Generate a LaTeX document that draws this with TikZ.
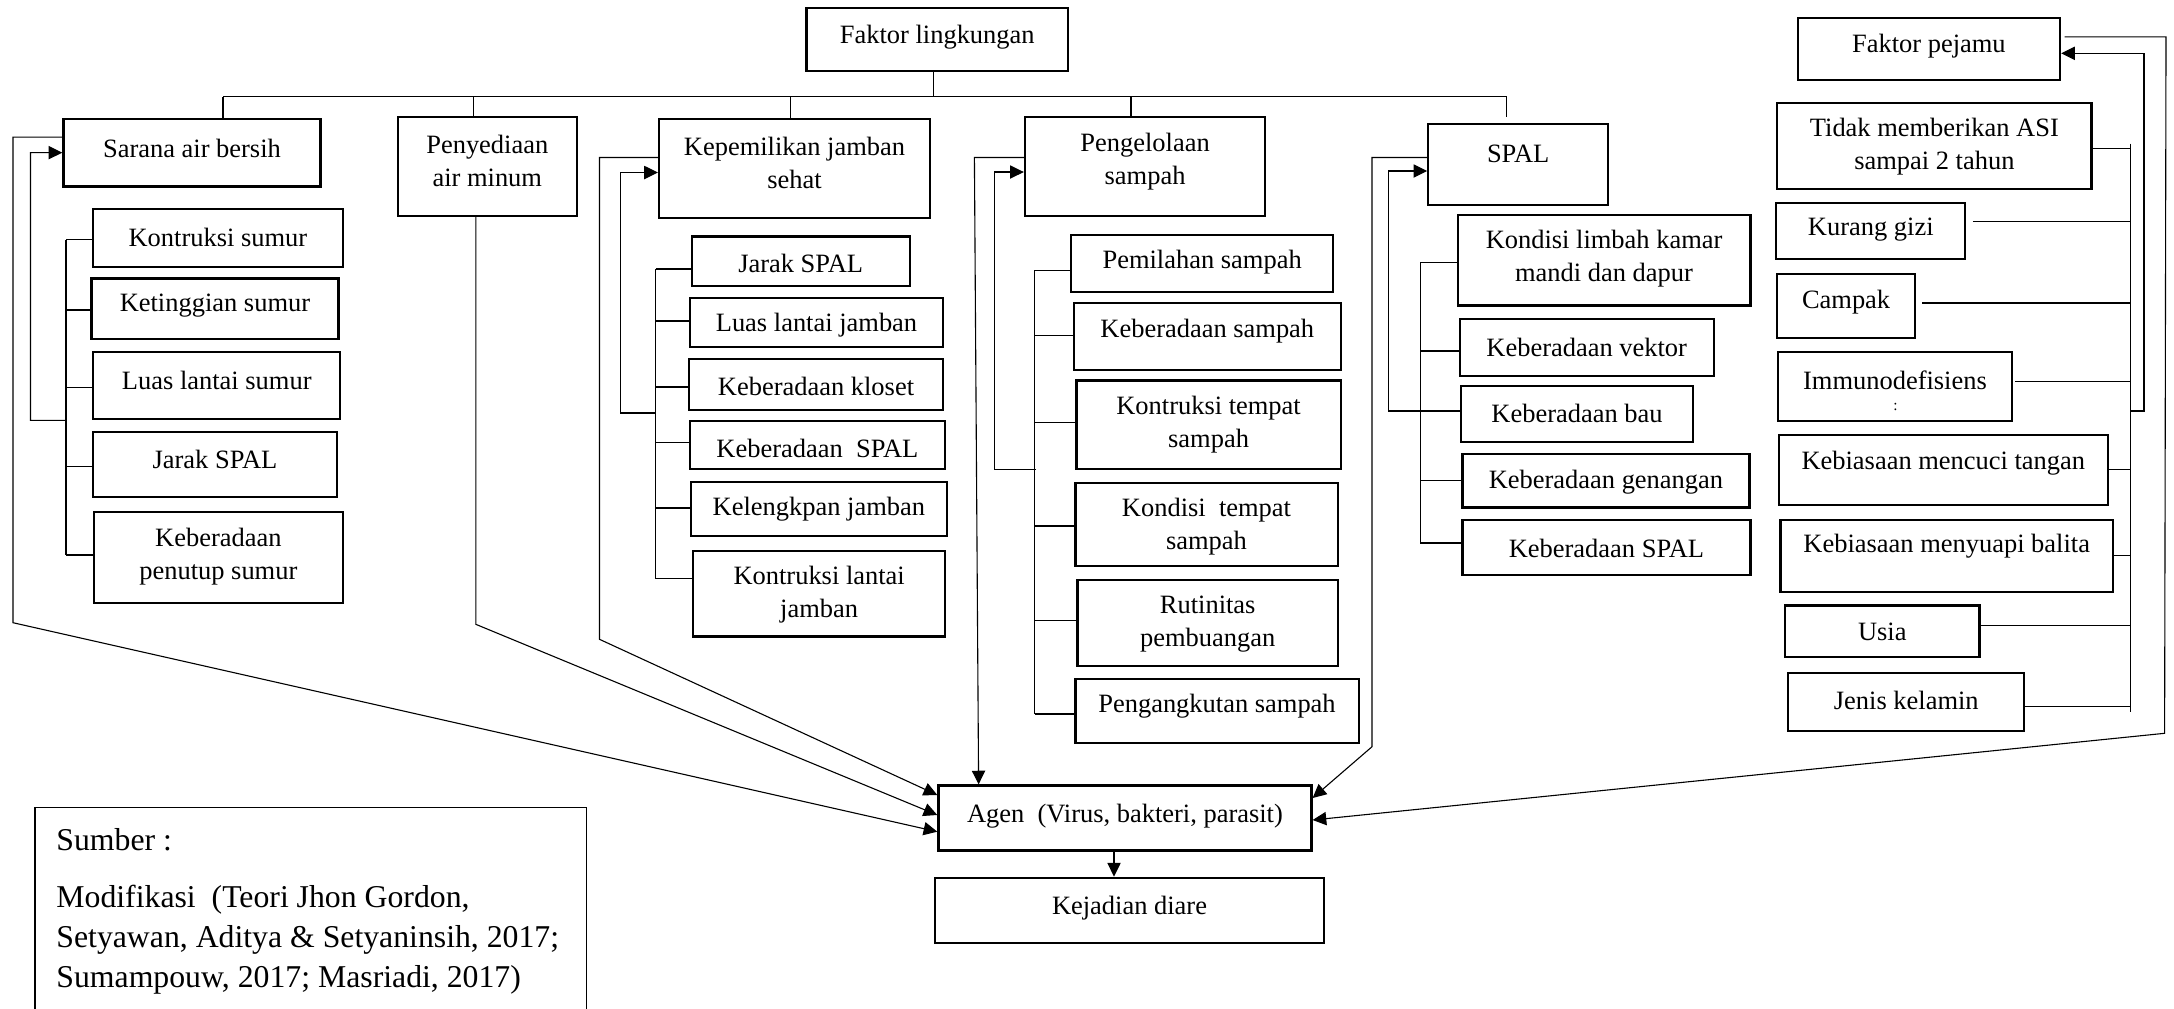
\documentclass[tikz,border=0pt]{standalone}
\usepackage{fontspec}
\setmainfont{Liberation Serif}
\usetikzlibrary{arrows.meta,fit,calc}
\tikzset{
  box/.style={draw, line width=1pt, inner sep=0pt},
  txt/.style={align=center, inner sep=0pt, font=\fontsize{12}{15}\selectfont},
  ln/.style={line width=0.5pt},
  arr/.style={ln, -{Triangle[length=6.2pt,width=6pt]}},
  stxt/.style={align=left, inner sep=0pt, anchor=west, font=\fontsize{14.4}{18.2}\selectfont},
}
\newcommand\bx[7]{\node[box,fit={(#2,#3) (#4,#5)}] (#1) {};
  \node[txt] (#1-t) at ({(#2+#4)/2},#6) {#7};}
\newcommand\stub[5]{\path ([shift={(#4,#5)}]#1.#2) coordinate (#1-c);
  \draw[ln] (#1-c) -- (#1-c -| #3);}
\begin{document}
\begin{tikzpicture}[x=0.4535pt,y=-0.4535pt]
\useasboundingbox (0,0) rectangle (2174,1008);

% ---------- boxes ----------
\bx{fl}{806.5}{7.8}{1068}{71.3}{37}{Faktor lingkungan}
\bx{sab}{63.4}{118.8}{320.5}{186.5}{148}{Sarana air bersih}
\bx{s1}{92.9}{208.6}{342.9}{267.3}{237}{Kontruksi sumur}
\bx{s2}{91.5}{278.4}{338.4}{338.8}{306}{Ketinggian sumur}
\bx{s3}{93.3}{351.8}{340.2}{419.2}{380}{Luas lantai sumur}
\bx{s4}{92.9}{431.8}{337}{497}{459}{Jarak SPAL}
\bx{s5}{93.8}{512}{342.9}{603}{557}{Keberadaan\\penutup sumur}
\bx{pam}{397.8}{117}{576.8}{216}{161}{Penyediaan\\air minum}
\bx{kjs}{659}{118.8}{930}{218}{163}{Kepemilikan jamban\\sehat}
\bx{k1}{691.7}{236.5}{909.6}{286}{263}{Jarak SPAL}
\bx{k2}{689.7}{297.6}{943.3}{347}{325}{Luas lantai jamban}
\bx{k3}{689}{358.7}{943}{409.6}{386}{Keberadaan kloset}
\bx{k4}{690}{420.7}{944.8}{469}{448}{Keberadaan~ SPAL}
\bx{k5}{691}{481.8}{946.8}{535.6}{509}{Kelengkpan jamban}
\bx{k6}{693}{550.7}{945.3}{636.5}{595}{Kontruksi lantai\\jamban}
\bx{pgs}{1024.9}{117.3}{1265.2}{216.2}{162}{Pengelolaan\\sampah}
\bx{p1}{1071.3}{234.6}{1333}{292.3}{262}{Pemilahan sampah}
\bx{p2}{1073.9}{303}{1340.7}{370}{331}{Keberadaan sampah}
\bx{p3}{1076.4}{380.5}{1340.7}{469.2}{425}{Kontruksi tempat\\sampah}
\bx{p4}{1075.4}{482.8}{1337.6}{566.2}{527}{Kondisi~ tempat\\sampah}
\bx{p5}{1077.4}{580.2}{1338}{666}{624}{Rutinitas\\pembuangan}
\bx{p6}{1075.4}{678.6}{1358.6}{743}{706}{Pengangkutan sampah}
\bx{spal}{1428.3}{124}{1608}{204.6}{154}{SPAL}
\bx{q1}{1457.7}{215.2}{1750.4}{305.4}{259}{Kondisi limbah kamar\\mandi dan dapur}
\bx{q2}{1459.8}{319}{1713.6}{375.7}{347}{Keberadaan vektor}
\bx{q3}{1461}{385.8}{1693}{441.6}{413}{Keberadaan bau}
\bx{q4}{1462.5}{454.2}{1749.4}{507.5}{482}{Keberadaan genangan}
\bx{q5}{1462.5}{520}{1750.4}{575}{548}{Keberadaan SPAL}
\bx{fp}{1797.7}{18}{2060}{80}{46}{Faktor pejamu}
\bx{h1}{1777.2}{102.8}{2091.5}{189}{147}{Tidak memberikan ASI\\sampai 2 tahun}
\bx{h2}{1776.2}{203}{1965.3}{259.3}{230}{Kurang gizi}
\bx{h3}{1777.2}{273.9}{1915}{337.9}{302}{Campak}
\bx{h4}{1778.3}{352}{2011.6}{420.7}{380}{Immunodefisiens}
\node[font=\fontsize{7}{8}\selectfont, inner sep=0pt] (h4-c) at (1895.5,407) {:};
\bx{h5}{1778.8}{434.8}{2107.8}{504.6}{463}{Kebiasaan mencuci tangan}
\bx{h6}{1780.4}{519.6}{2113}{591.9}{546}{Kebiasaan menyuapi balita}
\bx{h7}{1785}{605.4}{1979.5}{656.8}{632}{Usia}
\bx{h8}{1788.3}{672.8}{2024.2}{731}{700}{Jenis kelamin}
\bx{agen}{938.4}{785.5}{1311.5}{850.5}{816}{Agen~ (Virus, bakteri, parasit)}
\bx{kej}{935}{877.7}{1324}{942.8}{908}{Kejadian diare}

% ---------- source box ----------
\node[draw, line width=0.5pt, inner sep=0pt, fit={(35,807.7) (586.7,1014)}] (src) {};
\node[stxt] (src1) at (56,840) {Sumber :};
\node[stxt] (src2) at (56,940) {Modifikasi~ (Teori Jhon Gordon,\\Setyawan, Aditya \& Setyaninsih, 2017;\\Sumampouw, 2017; Masriadi, 2017)};

% ---------- top tree ----------
\coordinate (d0) at (933.6,96.7);
\coordinate (d1) at (223,96.7);
\coordinate (d2) at (473.2,96.7);
\coordinate (d3) at (790.7,96.7);
\coordinate (d4) at (1131,96.7);
\coordinate (d5) at (1506.6,96.7);
\draw[ln] (d1) -- (d5);
\draw[ln] (d0) -- (d0 |- fl.south);
\draw[ln] (d1) -- (d1 |- sab.north);
\draw[ln] (d2) -- (d2 |- pam.north);
\draw[ln] (d3) -- (d3 |- kjs.north);
\draw[ln] (d4) -- (d4 |- pgs.north);
\draw[ln] (d5) -- ($(d5 |- spal.north)+(0,-5.7)$);

% ---------- Sarana air bersih ----------
\coordinate (sb) at (66,0);
\stub{s1}{west}{sb}{0}{1.6}
\stub{s2}{west}{sb}{0}{1.4}
\stub{s3}{west}{sb}{0}{2.3}
\stub{s4}{west}{sb}{0}{2}
\stub{s5}{west}{sb}{0}{-2.5}
\draw[ln] (s1-c -| sb) -- (s5-c -| sb);
\coordinate (saj) at (66,420.4);
\coordinate (sai) at (30.5,152.6);
\draw[arr] (saj) -| (sai) -- (sab.west);
\coordinate (sao) at (13,622.7);
\draw[arr] ([shift={(0,-15.6)}]sab.west) -| (sao) -- ([shift={(0,13.7)}]agen.west);

% ---------- Penyediaan air minum ----------
\coordinate (pao) at (475.8,624.3);
\draw[arr] (pao |- pam.south) -- (pao) -- ([shift={(0,-3)}]agen.west);

% ---------- Kepemilikan jamban sehat ----------
\coordinate (kb) at (655.5,0);
\stub{k1}{west}{kb}{0}{7.7}
\stub{k2}{west}{kb}{0}{-1.3}
\stub{k3}{west}{kb}{0}{2.8}
\stub{k4}{west}{kb}{0}{-2.3}
\stub{k5}{west}{kb}{0}{-0.7}
\stub{k6}{west}{kb}{0}{-14.8}
\draw[ln] (k1-c -| kb) -- (k6-c -| kb);
\coordinate (kjj) at (655.5,413);
\coordinate (kji) at (620.8,172.5);
\draw[arr] (kjj) -| (kji) -- (kji -| kjs.west);
\coordinate (kjo) at (599.5,639.3);
\draw[arr] ([shift={(0,-10.9)}]kjs.west) -| (kjo) -- ([shift={(0,-23)}]agen.west);

% ---------- Pengelolaan sampah ----------
\coordinate (pb) at (1034.6,0);
\stub{p1}{west}{pb}{0}{7}
\stub{p2}{west}{pb}{0}{-1}
\stub{p3}{west}{pb}{0}{-2.7}
\stub{p4}{west}{pb}{0}{1.5}
\stub{p5}{west}{pb}{0}{-3}
\stub{p6}{west}{pb}{0}{3.2}
\draw[ln] (p1-c -| pb) -- (p6-c -| pb);
\coordinate (pgj) at (1036,469.2);
\coordinate (pgi) at (994.3,172);
\draw[arr] (pgj) -| (pgi) -- (pgi -| pgs.west);
\coordinate (pgo) at (974.4,157.5);
\draw[arr] ([shift={(0,-9.25)}]pgs.west) -- (pgo) -- ([shift={(41.3,0)}]agen.north west);

% ---------- SPAL ----------
\coordinate (qb) at (1420.4,0);
\stub{q1}{west}{qb}{0}{2}
\stub{q2}{west}{qb}{0}{3.6}
\stub{q4}{west}{qb}{0}{0}
\stub{q5}{west}{qb}{0}{-4.5}
\draw[ln] (q1-c -| qb) -- (q5-c -| qb);
\path ([shift={(0,-2.7)}]q3.west) coordinate (q3-c);
\coordinate (spi) at (1388.4,171);
\draw[arr] (q3-c) -| (spi) -- (spi -| spal.west);
\coordinate (spo) at (1372,746.7);
\draw[arr] ([shift={(0,-6.8)}]spal.west) -| (spo) -- ([shift={(0,-20)}]agen.east);

% ---------- Faktor pejamu ----------
\coordinate (hb) at (2130.3,0);
\stub{h1}{east}{hb}{0}{2.9}
\stub{h2}{east}{hb}{6.4}{-9.65}
\stub{h3}{east}{hb}{6}{-2.9}
\stub{h4}{east}{hb}{2.4}{-4.7}
\stub{h5}{east}{hb}{0}{0}
\stub{h6}{east}{hb}{0}{0}
\stub{h7}{east}{hb}{0}{-5.8}
\stub{h8}{east}{hb}{0}{4.4}
\coordinate (hbt) at (2130.3,143.5);
\coordinate (hbb) at (2130.3,711.6);
\draw[ln] (hbt) -- (hbb);
\coordinate (hj) at (2130.3,411);
\coordinate (hi) at (2144,53.3);
\draw[arr] (hj) -| (hi) -- (hi -| fp.east);
\coordinate (ho1) at (2166,36.8);
\coordinate (ho2) at (2164.6,733.3);
\draw[arr] ([shift={(3.6,-12.2)}]fp.east) -- (ho1) -- (ho2) -- ([shift={(0,2)}]agen.east);

% ---------- Agen -> Kejadian ----------
\coordinate (ak) at (1114,0);
\draw[arr] (ak |- agen.south) -- (ak |- kej.north);
\end{tikzpicture}
\end{document}
